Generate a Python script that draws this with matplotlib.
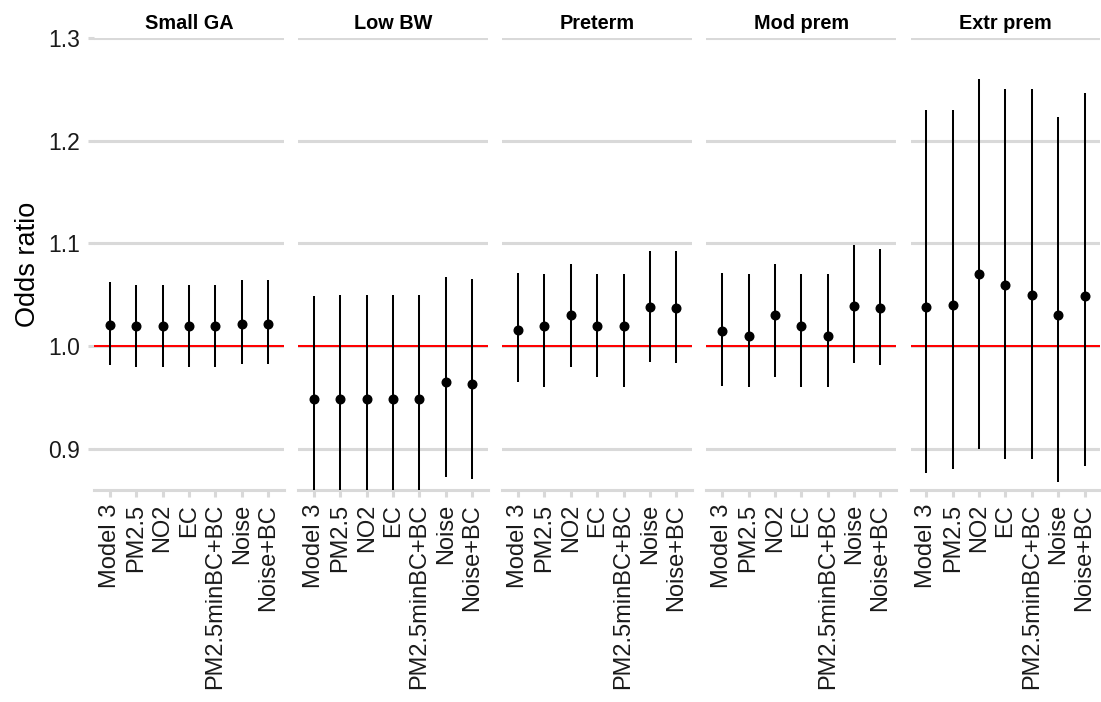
import numpy as np
import matplotlib
matplotlib.use("Agg")
import matplotlib.pyplot as plt

plt.rcParams['font.family'] = ['Liberation Sans', 'DejaVu Sans']

# exposure models shown on the x axis of every panel
models = ["Model 3", "PM2.5", "NO2", "EC", "PM2.5minBC+BC", "Noise", "Noise+BC"]
outcomes = ["Small GA", "Low BW", "Preterm", "Mod prem", "Extr prem"]

# odds ratios with lower / upper 95% CI per outcome
small_ga_or = [1.021, 1.020, 1.020, 1.020, 1.020, 1.022, 1.022]
small_ga_lo = [0.982, 0.980, 0.980, 0.980, 0.980, 0.983, 0.983]
small_ga_hi = [1.062, 1.060, 1.060, 1.060, 1.060, 1.064, 1.064]

low_bw_or = [0.949, 0.949, 0.949, 0.949, 0.949, 0.965, 0.963]
low_bw_lo = [0.858, 0.858, 0.858, 0.858, 0.858, 0.873, 0.871]
low_bw_hi = [1.049, 1.050, 1.050, 1.050, 1.050, 1.067, 1.065]

preterm_or = [1.016, 1.020, 1.030, 1.020, 1.020, 1.038, 1.037]
preterm_lo = [0.965, 0.960, 0.980, 0.970, 0.960, 0.985, 0.984]
preterm_hi = [1.071, 1.070, 1.080, 1.070, 1.070, 1.093, 1.093]

mod_prem_or = [1.015, 1.010, 1.030, 1.020, 1.010, 1.039, 1.037]
mod_prem_lo = [0.961, 0.960, 0.970, 0.960, 0.960, 0.984, 0.982]
mod_prem_hi = [1.071, 1.070, 1.080, 1.070, 1.070, 1.098, 1.095]

extr_prem_or = [1.038, 1.040, 1.070, 1.060, 1.050, 1.030, 1.049]
extr_prem_lo = [0.877, 0.880, 0.900, 0.890, 0.890, 0.868, 0.883]
extr_prem_hi = [1.230, 1.230, 1.260, 1.250, 1.250, 1.223, 1.246]

panels = [
    (small_ga_or, small_ga_lo, small_ga_hi),
    (low_bw_or, low_bw_lo, low_bw_hi),
    (preterm_or, preterm_lo, preterm_hi),
    (mod_prem_or, mod_prem_lo, mod_prem_hi),
    (extr_prem_or, extr_prem_lo, extr_prem_hi),
]

grid_col = '#d9d9d9'
x = np.arange(len(models))

fig, axes = plt.subplots(1, 5, figsize=(11.01, 7.02), dpi=100, sharey=True)
fig.subplots_adjust(left=0.0854, right=0.9995, top=0.9459, bottom=0.302, wspace=0.0747)

for i, (ax, name, (est, lo, hi)) in enumerate(zip(axes, outcomes, panels)):
    ax.set_facecolor('white')
    ax.vlines(x, lo, hi, color='black', linewidth=1.45, zorder=3)
    ax.plot(x, est, 'o', color='black', markersize=6.2, zorder=4)
    ax.axhline(1.0, color='red', linewidth=1.45, zorder=2)

    ax.set_xlim(-0.6, len(models) - 0.4)
    ax.set_ylim(0.86, 1.3)
    ax.set_yticks([0.9, 1.0, 1.1, 1.2, 1.3])
    ax.yaxis.grid(True, color=grid_col, linewidth=2.2, zorder=0)
    ax.xaxis.grid(False)
    ax.set_axisbelow(True)

    for side in ['top', 'right', 'left']:
        ax.spines[side].set_visible(False)
    ax.spines['bottom'].set_color(grid_col)
    ax.spines['bottom'].set_linewidth(2.2)

    ax.set_xticks(x)
    ax.set_xticklabels(models, rotation=90, fontsize=17, color='#1a1a1a')
    ax.tick_params(axis='x', length=5, width=2.2, color=grid_col, pad=5)
    if i == 0:
        ax.tick_params(axis='y', length=4, width=2.2, color=grid_col, labelsize=16.5,
                       labelcolor='#1a1a1a', pad=6)
        ax.set_yticklabels(['0.9', '1.0', '1.1', '1.2', '1.3'])
        ax.set_ylabel('Odds ratio', fontsize=19.5, labelpad=5)
    else:
        ax.tick_params(axis='y', length=0, labelleft=False)

    ax.set_title(name, fontsize=14.3, fontweight='bold', pad=6.3)

fig.savefig('out.png', dpi=100, facecolor='white')
